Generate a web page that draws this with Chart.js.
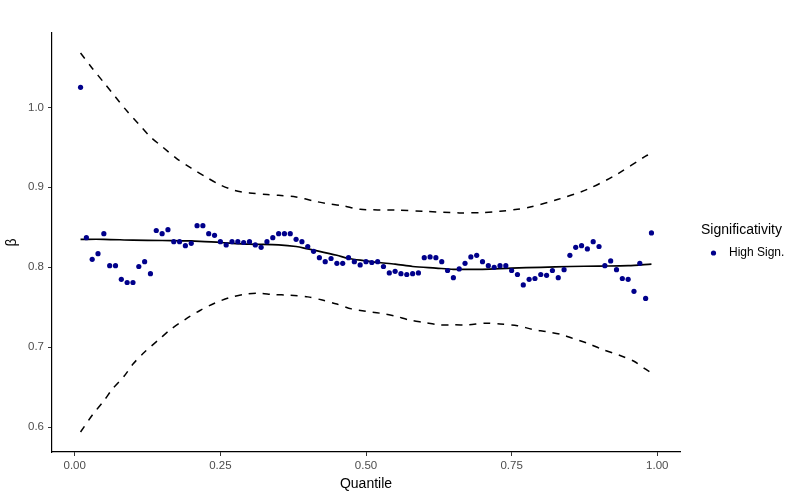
<!DOCTYPE html>
<html>
<head>
<meta charset="utf-8">
<script src="https://cdn.jsdelivr.net/npm/chart.js@4.4.1/dist/chart.umd.min.js"></script>
<style>
html,body{margin:0;padding:0;background:#fff;}
#wrap{width:800px;height:496px;position:relative;}
</style>
</head>
<body>
<div id="wrap"><canvas id="c" width="800" height="496"></canvas></div>
<script>
// Quantiles of the point estimates
const quantiles = [0.01,0.02,0.03,0.04,0.05,0.06,0.07,0.08,0.09,0.10,
  0.11,0.12,0.13,0.14,0.15,0.16,0.17,0.18,0.19,0.20,
  0.21,0.22,0.23,0.24,0.25,0.26,0.27,0.28,0.29,0.30,
  0.31,0.32,0.33,0.34,0.35,0.36,0.37,0.38,0.39,0.40,
  0.41,0.42,0.43,0.44,0.45,0.46,0.47,0.48,0.49,0.50,
  0.51,0.52,0.53,0.54,0.55,0.56,0.57,0.58,0.59,0.60,
  0.61,0.62,0.63,0.64,0.65,0.66,0.67,0.68,0.69,0.70,
  0.71,0.72,0.73,0.74,0.75,0.76,0.77,0.78,0.79,0.80,
  0.81,0.82,0.83,0.84,0.85,0.86,0.87,0.88,0.89,0.90,
  0.91,0.92,0.93,0.94,0.95,0.96,0.97,0.98,0.99];
// Beta estimates ("High Sign.")
const beta = [1.025,0.837,0.810,0.817,0.842,0.802,0.802,0.785,0.781,0.781,
  0.801,0.807,0.792,0.846,0.842,0.847,0.832,0.832,0.827,0.830,
  0.852,0.852,0.842,0.840,0.832,0.828,0.832,0.832,0.831,0.832,
  0.828,0.825,0.832,0.837,0.842,0.842,0.842,0.835,0.832,0.826,
  0.820,0.812,0.807,0.811,0.805,0.805,0.812,0.807,0.803,0.807,
  0.806,0.807,0.801,0.793,0.795,0.792,0.791,0.792,0.793,0.812,
  0.813,0.812,0.807,0.796,0.787,0.798,0.805,0.813,0.815,0.807,
  0.802,0.800,0.802,0.802,0.796,0.791,0.778,0.785,0.786,0.791,
  0.790,0.796,0.787,0.797,0.815,0.825,0.827,0.823,0.832,0.826,
  0.802,0.808,0.797,0.786,0.785,0.770,0.805,0.761,0.843];

// Fitted (solid) line
const fitQ = [0.01,0.05,0.10,0.15,0.20,0.25,0.30,0.35,0.38,0.40,0.42,0.45,0.47,0.50,0.52,0.55,0.58,0.62,0.65,0.70,0.75,0.80,0.85,0.90,0.95,0.99];
const fitV = [0.835,0.835,0.834,0.8335,0.833,0.831,0.829,0.828,0.826,0.823,0.820,0.815,0.811,0.808,0.806,0.804,0.801,0.799,0.7975,0.7975,0.799,0.800,0.801,0.8015,0.802,0.804];

// Upper dashed band
const upperQ = [0.01,0.03,0.05,0.07,0.09,0.11,0.13,0.15,0.175,0.20,0.225,0.25,0.275,0.30,0.33,0.35,0.38,0.41,0.43,0.46,0.49,0.55,0.60,0.66,0.70,0.73,0.76,0.78,0.83,0.88,0.93,0.98,0.99];
const upperV = [1.068,1.049,1.031,1.013,0.995,0.979,0.963,0.951,0.936,0.924,0.913,0.903,0.896,0.893,0.891,0.890,0.888,0.883,0.880,0.877,0.8725,0.8715,0.870,0.868,0.8685,0.870,0.8725,0.875,0.885,0.8975,0.916,0.939,0.942];

// Lower dashed band
const lowerQ = [0.01,0.03,0.05,0.065,0.085,0.10,0.12,0.145,0.165,0.19,0.215,0.24,0.265,0.29,0.315,0.34,0.37,0.40,0.425,0.45,0.475,0.50,0.525,0.55,0.575,0.60,0.625,0.65,0.675,0.705,0.73,0.76,0.785,0.81,0.835,0.855,0.88,0.905,0.935,0.96,0.98,0.99];
const lowerV = [0.594,0.615,0.633,0.648,0.664,0.679,0.694,0.710,0.7225,0.735,0.746,0.755,0.762,0.766,0.7675,0.766,0.765,0.763,0.759,0.754,0.748,0.745,0.7425,0.739,0.734,0.731,0.728,0.728,0.728,0.730,0.729,0.727,0.7225,0.7195,0.716,0.711,0.705,0.6975,0.690,0.6825,0.6725,0.668];

const xTicks = [0, 0.25, 0.5, 0.75, 1.0];
const yTicks = [0.6, 0.7, 0.8, 0.9, 1.0];
const seriesName = "High Sign.";
const legendTitle = "Significativity";

const zip = (a, b) => a.map((v, i) => ({x: v, y: b[i]}));
const FONT = '"Liberation Sans", Arial, sans-serif';

const legendPlugin = {
  id: 'ggLegend',
  afterDraw(chart) {
    const ctx = chart.ctx;
    ctx.save();
    ctx.fillStyle = '#000';
    ctx.textBaseline = 'middle';
    ctx.textAlign = 'left';
    ctx.font = '14px ' + FONT;
    ctx.fillText(legendTitle, 701, 230);
    ctx.beginPath();
    ctx.fillStyle = '#00008B';
    ctx.arc(713.5, 253, 2.6, 0, Math.PI * 2);
    ctx.fill();
    ctx.fillStyle = '#000';
    ctx.font = '12px ' + FONT;
    ctx.fillText(seriesName, 729, 253);
    ctx.restore();
  }
};

new Chart(document.getElementById('c'), {
  type: 'scatter',
  data: {
    datasets: [
      {
        label: seriesName,
        data: zip(quantiles, beta),
        pointRadius: 2.6,
        pointBackgroundColor: '#00008B',
        pointBorderWidth: 0,
        showLine: false,
        order: 0
      },
      {
        label: 'fit',
        data: zip(fitQ, fitV),
        showLine: true,
        borderColor: '#000',
        borderWidth: 1.7,
        pointRadius: 0,
        tension: 0.3,
        order: 1
      },
      {
        label: 'upper',
        data: zip(upperQ, upperV),
        showLine: true,
        borderColor: '#000',
        borderWidth: 1.5,
        borderDash: [7, 7],
        pointRadius: 0,
        tension: 0.3,
        order: 1
      },
      {
        label: 'lower',
        data: zip(lowerQ, lowerV),
        showLine: true,
        borderColor: '#000',
        borderWidth: 1.5,
        borderDash: [7, 7],
        pointRadius: 0,
        tension: 0.3,
        order: 1
      }
    ]
  },
  options: {
    responsive: false,
    animation: false,
    layout: { padding: { top: 33, right: 120, left: 0, bottom: 0 } },
    plugins: { legend: { display: false }, tooltip: { enabled: false } },
    scales: {
      x: {
        type: 'linear',
        min: -0.039, max: 1.039,
        afterBuildTicks: s => { s.ticks = xTicks.map(v => ({value: v})); },
        afterFit: s => { s.height = 44; },
        ticks: {
          callback: v => v.toFixed(2),
          color: '#4D4D4D',
          font: { family: FONT, size: 11.5 },
          padding: 3,
          maxRotation: 0
        },
        grid: { display: true, drawOnChartArea: false, drawTicks: true, tickLength: 4, color: '#333', lineWidth: 1 },
        border: { display: true, color: '#000', width: 1.2 },
        title: { display: true, text: 'Quantile', color: '#000', font: { family: FONT, size: 14 }, padding: { top: 0, bottom: 3 } }
      },
      y: {
        type: 'linear',
        min: 0.569, max: 1.093,
        afterBuildTicks: s => { s.ticks = yTicks.map(v => ({value: v})); },
        afterFit: s => { s.width = 52; },
        ticks: {
          callback: v => v.toFixed(1),
          color: '#4D4D4D',
          font: { family: FONT, size: 11.5 },
          padding: 4
        },
        grid: { display: true, drawOnChartArea: false, drawTicks: true, tickLength: 4, color: '#333', lineWidth: 1 },
        border: { display: true, color: '#000', width: 1.2 },
        title: { display: true, text: 'β', color: '#000', font: { family: FONT, size: 14 }, padding: { top: 4, bottom: 0 } }
      }
    }
  },
  plugins: [legendPlugin]
});
</script>
</body>
</html>
